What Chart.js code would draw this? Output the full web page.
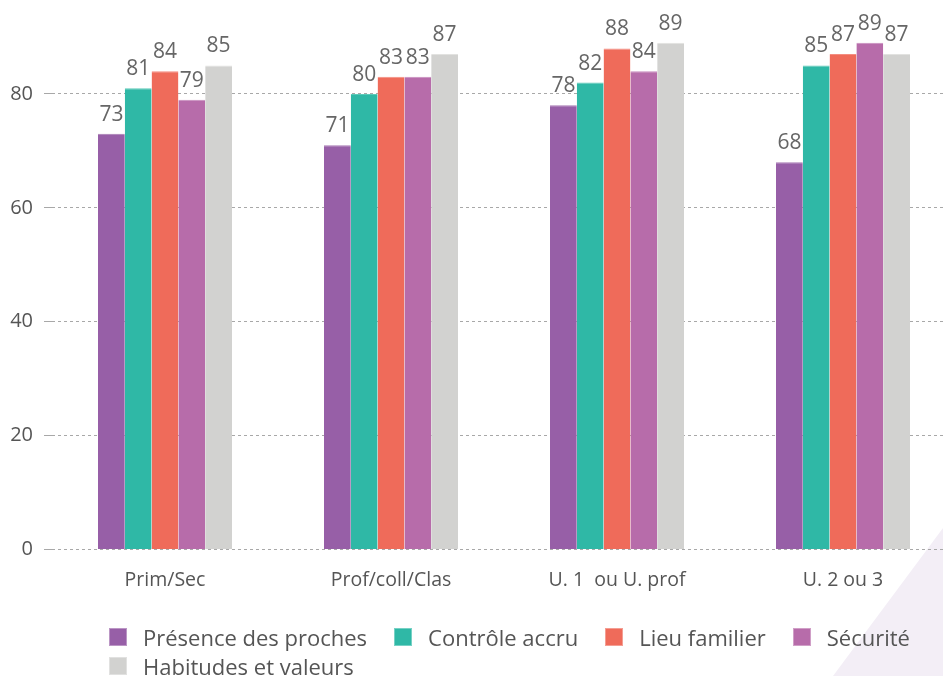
<!DOCTYPE html>
<html>
<head>
<meta charset="utf-8">
<script src="https://cdn.jsdelivr.net/npm/chart.js@4"></script>
<style>
    html, body { margin: 0; padding: 0; width: 943px; height: 676px; overflow: hidden; background: #fff; font-family: "Open Sans", sans-serif; }
    #deco { position: absolute; left: 0; top: 0; width: 943px; height: 676px; background: #f3eef6; clip-path: polygon(943px 528px, 943px 676px, 833px 676px); }
    #wrap { position: absolute; left: 0; top: 0; width: 956px; height: 676px; }
    #legend { position: absolute; left: 109px; top: 626px; width: 850px; display: flex; flex-wrap: wrap; row-gap: 7px; }
    .lg-item { display: flex; align-items: center; margin-right: 27px; font-size: 22px; color: #555; line-height: 22px; }
    .lg-box { width: 18px; height: 18px; margin-right: 16px; box-sizing: border-box; border: 1px solid rgba(255,255,255,0.35); }
</style>
</head>
<body>
<div id="deco"></div>
<div id="wrap"><canvas id="chart" width="956" height="676"></canvas></div>
<div id="legend"></div>
<script>
// カテゴリと系列
const categories = ['Prim/Sec', 'Prof/coll/Clas', 'U. 1  ou U. prof', 'U. 2 ou 3'];
const seriesNames = ['Présence des proches', 'Contrôle accru', 'Lieu familier', 'Sécurité', 'Habitudes et valeurs'];
const presence = [73, 71, 78, 68];
const controle = [81, 80, 82, 85];
const lieu = [84, 83, 88, 87];
const securite = [79, 83, 84, 89];
const habitudes = [85, 87, 89, 87];
const yTicks = [0, 20, 40, 60, 80];

const colors = ['#975fa7', '#2fb8a6', '#ef6b5a', '#b76caa', '#d2d2d0'];
const topColors = ['#a679b3', '#5ccab9', '#f48d80', '#c78bbd', '#e2e2e0'];

const seriesData = [presence, controle, lieu, securite, habitudes];

// 値ラベル
const valueLabels = {
    id: 'valueLabels',
    afterDatasetsDraw(chart) {
        const ctx = chart.ctx;
        ctx.save();
        ctx.font = '21px "Open Sans"';
        ctx.fillStyle = '#666';
        ctx.textAlign = 'center';
        ctx.textBaseline = 'alphabetic';
        chart.data.datasets.forEach((ds, i) => {
            chart.getDatasetMeta(i).data.forEach((bar, j) => {
                ctx.fillText(String(ds.data[j]), bar.x, bar.y - 13);
            });
        });
        ctx.restore();
    }
};

const ctx = document.getElementById('chart').getContext('2d');
new Chart(ctx, {
    type: 'bar',
    data: {
        labels: categories,
        datasets: seriesNames.map((name, i) => ({
            label: name,
            data: seriesData[i],
            backgroundColor: colors[i],
            borderColor: topColors[i],
            borderWidth: { top: 1, left: 0, right: 0, bottom: 0 },
            borderSkipped: 'bottom',
            categoryPercentage: 0.593,
            barPercentage: 1.0
        }))
    },
    options: {
        responsive: false,
        animation: false,
        layout: { padding: { top: 37, right: 0, bottom: 73, left: 0 } },
        scales: {
            x: {
                grid: { display: false },
                border: { display: false },
                ticks: { color: '#555', font: { family: 'Open Sans', size: 19.5 }, padding: 11 }
            },
            y: {
                min: 0,
                max: 90,
                afterBuildTicks: s => { s.ticks = yTicks.map(v => ({ value: v })); },
                afterFit: s => { s.width = 52; },
                grid: { color: '#a8a8a8', lineWidth: 1, tickLength: 8, tickColor: '#a8a8a8' },
                border: { display: false, dash: [3, 3] },
                ticks: { color: '#555', font: { family: 'Open Sans', size: 20 }, padding: 11 }
            }
        },
        plugins: {
            legend: { display: false },
            tooltip: { enabled: false }
        }
    },
    plugins: [valueLabels]
});

// 凡例（HTML）
const legendEl = document.getElementById('legend');
seriesNames.forEach((name, i) => {
    const item = document.createElement('div');
    item.className = 'lg-item';
    item.innerHTML = `<span class="lg-box" style="background:${colors[i]}"></span><span>${name}</span>`;
    legendEl.appendChild(item);
});
</script>
</body>
</html>
